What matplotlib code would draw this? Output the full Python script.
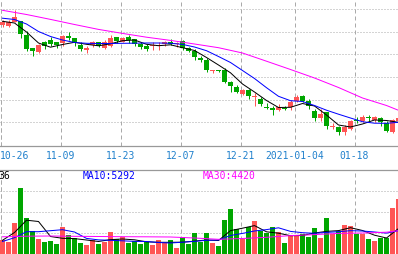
import matplotlib
matplotlib.use('Agg')
import matplotlib.pyplot as plt

# trading days from 2020-10-26 to 2021-01-27, one candle per day
dates = ['10-26', '11-09', '11-23', '12-07', '12-21', '2021-01-04', '01-18']
date_idx = [0, 10, 20, 30, 40, 49, 59]

opens = [17.40, 17.33, 17.73, 17.80, 16.40, 15.07, 14.67, 15.67, 15.93, 15.67,
         15.57, 16.33, 16.07, 15.40, 14.93, 15.40, 15.73, 15.10, 15.33, 16.17,
         15.73, 16.17, 16.00, 15.50, 15.33, 15.33, 15.27, 15.47, 15.73, 15.47,
         15.80, 15.07, 14.83, 14.07, 13.93, 12.83, 12.93, 12.93, 11.73, 11.17,
         10.50, 10.90, 10.17, 10.00, 9.23, 9.07, 8.90, 9.10, 9.17, 9.83,
         10.33, 9.83, 8.83, 8.10, 8.67, 7.20, 7.23, 6.67, 7.00, 7.90,
         7.83, 8.17, 7.90, 8.10, 7.60, 6.67, 7.83]
highs = [17.90, 17.93, 18.90, 17.80, 16.77, 15.07, 15.50, 15.77, 16.17, 15.67,
         16.40, 16.67, 16.10, 15.67, 15.27, 15.83, 15.73, 15.90, 16.40, 16.17,
         16.17, 16.40, 16.00, 15.67, 15.50, 15.73, 15.67, 15.83, 16.00, 15.73,
         15.90, 15.23, 15.00, 14.27, 14.07, 12.93, 12.93, 13.07, 11.83, 11.40,
         11.00, 11.00, 10.57, 10.17, 9.60, 9.27, 9.50, 9.27, 9.93, 10.43,
         10.40, 10.00, 9.00, 9.00, 8.73, 7.60, 7.33, 7.40, 7.93, 8.17,
         8.40, 8.40, 8.33, 8.17, 7.83, 8.00, 8.10]
lows = [17.20, 17.23, 17.70, 16.13, 14.77, 14.33, 14.60, 15.00, 15.27, 15.10,
        15.33, 15.90, 15.33, 14.83, 14.57, 15.20, 15.17, 15.00, 15.23, 15.60,
        15.67, 15.60, 15.33, 15.00, 14.83, 14.90, 14.90, 15.33, 15.40, 15.23,
        14.90, 14.67, 13.93, 13.67, 12.67, 12.60, 12.67, 11.60, 10.67, 10.60,
        10.43, 10.00, 9.33, 9.27, 9.00, 8.43, 8.83, 8.93, 8.93, 9.67,
        9.67, 9.00, 7.83, 7.83, 7.00, 7.00, 6.43, 6.43, 6.90, 7.60,
        7.67, 7.83, 7.73, 7.33, 6.73, 6.60, 7.70]
closes = [17.70, 17.73, 18.20, 16.47, 15.00, 14.80, 15.40, 15.27, 15.50, 15.43,
          16.27, 16.07, 15.60, 15.00, 15.07, 15.67, 15.33, 15.67, 16.10, 15.83,
          16.07, 15.93, 15.50, 15.17, 15.00, 15.43, 15.43, 15.73, 15.50, 15.57,
          15.07, 14.83, 14.17, 13.90, 12.93, 12.93, 12.83, 11.73, 11.27, 10.73,
          10.90, 10.33, 10.33, 9.50, 9.13, 8.93, 9.23, 9.00, 9.73, 10.23,
          9.77, 9.27, 8.10, 8.50, 7.27, 7.33, 6.67, 7.23, 7.83, 7.80,
          8.23, 8.07, 8.17, 7.67, 6.83, 7.90, 8.07]
volumes = [3335, 2875, 7130, 15180, 8280, 5290, 3450, 2830, 3060, 2300,
           6280, 4370, 3680, 2530, 2070, 3220, 2300, 2830, 5130, 3450,
           3840, 2530, 2920, 2300, 2830, 2070, 3290, 2530, 3290, 1380,
           3840, 2300, 4830, 2830, 4830, 2530, 1770, 7820, 10350, 5750,
           3450, 6140, 7520, 5360, 4830, 6140, 5130, 2530, 4440, 4440,
           4600, 3980, 5980, 3680, 8280, 4600, 5360, 6670, 6370, 4600,
           4600, 3450, 3060, 3680, 3680, 10580, 12650]

# moving averages
ma_x = list(range(0, 67, 2))
ma5 = [17.77, 17.60, 16.70, 15.60, 15.18, 15.45, 15.67, 15.47, 15.32, 15.52,
       15.83, 15.90, 15.47, 15.33, 15.42, 15.13, 14.85, 14.15, 13.40, 12.62,
       11.50, 10.70, 9.85, 9.15, 9.17, 9.55, 9.30, 8.40, 7.40, 7.20,
       7.50, 7.90, 7.85, 7.67]
ma10 = [18.08, 17.95, 17.50, 16.75, 16.25, 15.90, 15.65, 15.57, 15.55, 15.55,
        15.57, 15.58, 15.60, 15.60, 15.57, 15.46, 15.20, 14.83, 14.25, 13.65,
        12.85, 12.05, 11.13, 10.27, 9.83, 9.75, 9.35, 8.88, 8.48, 8.10,
        7.73, 7.58, 7.57, 7.67]
ma30_x = [0, 4, 8, 12, 16, 20, 24, 28, 32, 36, 40, 44, 48, 52, 56, 60, 64, 66]
ma30 = [18.87, 18.45, 17.96, 17.45, 16.96, 16.56, 16.18, 15.86, 15.50, 15.13,
        14.60, 13.78, 12.95, 12.10, 11.15, 10.10, 9.35, 8.87]

vol_ma5 = [3150, 4945, 7775, 7475, 4025, 3610, 3540, 3220, 2875, 3310,
           3450, 3265, 2805, 2690, 2690, 2715, 2965, 3220, 3105, 5380,
           5935, 6530, 5105, 4785, 4210, 4255, 4830, 5200, 5380, 6050,
           5405, 4325, 3680, 5865]
vol_ma10 = [2875, 3750, 5130, 5130, 5360, 5590, 5060, 3590, 3245, 3150,
            3035, 2900, 2875, 2645, 2530, 2715, 2900, 3150, 3220, 4255,
            4740, 5290, 5610, 6025, 5200, 4900, 4760, 4970, 5130, 5360,
            5290, 5060, 4805, 5360]
vol_ma30 = [3955, 4095, 4140, 4070, 4025, 3980, 3955, 3910, 3680, 3380,
            3565, 3840, 4230, 4460, 4740, 4830, 5015, 5360]

UP = '#ff5555'
DOWN = '#00a600'
GRID = '#aaaaaa'
PX = 0.72  # one pixel in points at 100 dpi

W, H = 398, 255
fig = plt.figure(figsize=(W / 100, H / 100), dpi=100)
xlim = (-2.5 / 6, -2.5 / 6 + W / 6)

ax = fig.add_axes([0, (H - 146.7) / H, 1, 146.7 / H])
vax = fig.add_axes([0, 0, 1, 84 / H])

for a in (ax, vax):
    a.set_xlim(*xlim)
    a.set_xticks([])
    a.set_yticks([])
    for s in a.spines.values():
        s.set_visible(False)
    for i in [0] + date_idx:
        a.axvline(i - 2 / 6, color=GRID, lw=PX, ls=(0, (4, 3)), zorder=0)

ax.set_ylim(20 - 14.67, 20)
for k in range(6):
    ax.axhline(19 - 2.267 * k, color=GRID, lw=PX, ls=(0, (1, 2)), zorder=0)
ax.spines['bottom'].set_visible(True)
ax.spines['bottom'].set_color('#999999')
ax.spines['bottom'].set_linewidth(0.9)

vax.set_ylim(0, 84 * 230)
for k in range(1, 4):
    vax.axhline(4830 * k, color=GRID, lw=PX, ls=(0, (1, 2)), zorder=0)
vax.spines['top'].set_visible(True)
vax.spines['top'].set_color('#999999')
vax.spines['top'].set_linewidth(0.9)

xs = list(range(len(closes)))
cols = [UP if c >= o else DOWN for o, c in zip(opens, closes)]
bottoms = [min(o, c) for o, c in zip(opens, closes)]
heights = [max(abs(c - o), 0.1) for o, c in zip(opens, closes)]
ax.vlines(xs, lows, highs, colors=cols, lw=PX, zorder=2)
ax.bar(xs, heights, bottom=bottoms, width=5 / 6, color=cols, linewidth=0, zorder=3)

ax.plot(ma_x, ma5, color='black', lw=PX, zorder=4)
ax.plot(ma_x, ma10, color='#0000ff', lw=PX, zorder=4)
ax.plot(ma30_x, ma30, color='#ff00ff', lw=PX, zorder=4)

vax.bar(xs, volumes, width=5 / 6, color=cols, linewidth=0, zorder=2)
vax.plot(ma_x, vol_ma5, color='black', lw=PX, zorder=4)
vax.plot(ma_x, vol_ma10, color='#0000ff', lw=PX, zorder=4)
vax.plot(ma30_x, vol_ma30, color='#ff00ff', lw=PX, zorder=4)

font = dict(family='DejaVu Sans Mono', fontsize=7)
for name, i in zip(dates, date_idx):
    px = 6 * i + 0.5
    ha = 'left' if i == 0 else 'center'
    fig.text(px / W if i else 0, (H - 159.3) / H, name, ha=ha, va='baseline',
             color='#2080cc', **font)

fig.text(10.5 / W, (H - 179.3) / H, '36', ha='right', va='baseline', color='black', **font)
fig.text(83 / W, (H - 179.3) / H, 'MA10:5292', ha='left', va='baseline', color='#0000ff', **font)
fig.text(203 / W, (H - 179.3) / H, 'MA30:4420', ha='left', va='baseline', color='#ff00ff', **font)

fig.savefig('out.png', dpi=100)
